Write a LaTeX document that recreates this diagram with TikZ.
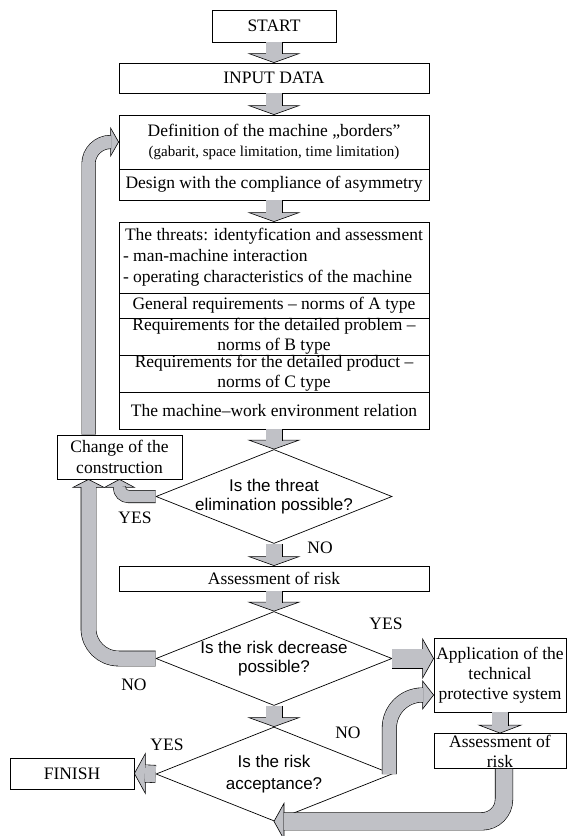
\documentclass[tikz,border=0pt]{standalone}
\usepackage{fontspec}
\setmainfont{Liberation Serif}
\newfontfamily\arialfont{Liberation Sans}
\usetikzlibrary{shapes.geometric,calc}
\definecolor{arrowgray}{RGB}{192,193,198}
\tikzset{pics/head/.style n args={2}{code={\filldraw[fill=arrowgray,line width=0.6pt,line join=miter] (0,0) -- (-#2,#1) -- (-#2,-#1) -- cycle;}}}

\begin{document}
\begin{tikzpicture}[x=1pt, y=1pt, every node/.style={font=\fontsize{17.5}{20}\selectfont},
     box/.style={draw, line width=0.8pt, inner sep=0pt, align=center, minimum width=310pt},
     decision/.style={draw, diamond, line width=0.7pt, minimum width=236pt, minimum height=94pt, inner sep=0pt},
     question/.style={align=center, inner sep=0pt, font=\arialfont\fontsize{17}{19}\selectfont},
     answer/.style={inner sep=0pt},
     fat/.style={draw=black, line width=0.6pt, double=arrowgray, double distance=#1}, fat/.default=15.8pt]

   \useasboundingbox (0,0) rectangle (568,-836);

   \node[box, minimum width=124pt, minimum height=32pt] (start) at (274,-26) {START};
   \node[box, minimum height=30pt] (input) at (274,-78) {INPUT DATA};
   \node[box, minimum height=54pt] (borders) at (274,-142) {Definition of the machine „borders”\\{\fontsize{15}{18}\selectfont (gabarit, space limitation, time limitation)}};
   \node[box, minimum height=31pt] (design) at (274,-184.5) {Design with the compliance of asymmetry};
   \node[box, minimum height=71pt, font=\fontsize{17.5}{21}\selectfont] (threats) at (274,-257.5) {The threats: identyfication and assessment\\\makebox[302pt][l]{- man-machine interaction}\\\makebox[302pt][l]{- operating characteristics of the machine}};
   \node[box, minimum height=25pt] (normA) at (274,-305.5) {General requirements -- norms of A type};
   \node[box, minimum height=37pt] (normB) at (274,-336.5) {Requirements for the detailed problem --\\norms of B type};
   \node[box, minimum height=37pt] (normC) at (274,-373.5) {Requirements for the detailed product --\\norms of C type};
   \node[box, minimum height=37pt] (relation) at (274,-410.5) {The machine--work environment relation};
   \node[box, minimum width=125pt, minimum height=44pt, font=\fontsize{17.5}{21}\selectfont] (change) at (119.5,-457) {Change of the\\construction};
   \node[box, minimum height=25pt] (risk) at (274,-578.5) {Assessment of risk};
   \node[box, minimum width=132pt, minimum height=74pt] (system) at (500,-675) {Application of the\\technical\\protective system};
   \node[box, minimum width=132pt, minimum height=35pt] (recheck) at (500,-751) {Assessment of\\risk};
   \node[box, minimum width=124pt, minimum height=31pt] (finish) at (72,-773.5) {FINISH};

   \node[decision] (threat) at (274,-496.5) {};
   \node[question] (threatq) at (threat) {Is the threat\\elimination possible?};
   \node[decision] (decrease) at (274,-658.5) {};
   \node[question] (decreaseq) at (decrease) {Is the risk decrease\\possible?};
   \node[decision] (accept) at (274,-774) {};
   \node[question, font=\arialfont\fontsize{17}{22}\selectfont] (acceptq) at (accept) {Is the risk\\acceptance?};

   \node[answer] (yes1) at (135,-518) {YES};
   \node[answer] (no1) at (320,-548) {NO};
   \node[answer] (yes2) at (386,-624) {YES};
   \node[answer] (no2) at (134,-685) {NO};
   \node[answer] (yes3) at (167,-745) {YES};
   \node[answer] (no3) at (348,-733) {NO};

   \foreach \a/\b in {start/input, input/borders, design/threats, relation/threat, threat/risk, risk/decrease, decrease/accept}
     {\pic[rotate=-90] at (\b.north) {head={25}{9}};
      \draw[fat] (\a.south) -- ([yshift=8.6]\b.north);}

   \pic at (system.west |- decrease) {head={19.5}{11}};
   \draw[fat=18.8pt] (decrease.east) -- ($(system.west |- decrease)+(-10.6,0)$);
   \pic[rotate=-90] at (recheck.north) {head={21}{8}};
   \draw[fat] (system.south) -- ([yshift=7.6]recheck.north);
   \pic[rotate=180] at (finish.east) {head={20}{11}};
   \draw[fat=16.8pt] (accept.west) -- ([xshift=10.6]finish.east);

   \coordinate (noin) at ($(system.west)+(0,-20)$);
   \pic at (noin) {head={14}{11}};
   \draw[fat=13.8pt, rounded corners=33pt] ($(accept.east)+(-3,0)$) |- ($(noin)+(-10.6,0)$);
   \pic[rotate=180] at (accept.south) {head={18}{10}};
   \draw[fat=17pt, rounded corners=22pt] ($(recheck.south)+(4,0)$) |- ($(accept.south)+(9.6,0)$);

   \coordinate (nobase) at ($(change.south)+(-31,0)$);
   \pic[rotate=90] at (nobase) {head={15.5}{8}};
   \draw[fat=14.5pt, rounded corners=30pt] (decrease.west) -| ($(nobase)+(0,-7.6)$);
   \pic[rotate=90] at (change.south) {head={15}{8}};
   \draw[fat=11.8pt, rounded corners=9pt] (threat.west) -| ($(change.south)+(0,-7.6)$);
   \pic at (borders.west) {head={14}{8}};
   \draw[fat=12.8pt, rounded corners=22pt] ($(change.north)+(-31,0)$) |- ($(borders.west)+(-7.6,0)$);
\end{tikzpicture}
\end{document}
